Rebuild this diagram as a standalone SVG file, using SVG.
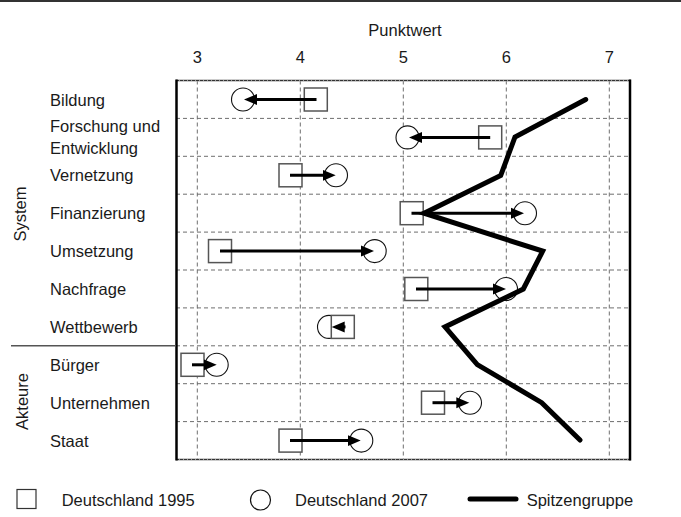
<svg xmlns="http://www.w3.org/2000/svg" width="681" height="517" viewBox="0 0 681 517">
<style>
text{font-family:"Liberation Sans",Arial,sans-serif;font-size:16.5px;fill:#1a1a1a}
.tick{text-anchor:middle}
.grid{stroke:#6e6e6e;stroke-width:1;stroke-dasharray:4 3;fill:none}
.sq{fill:#fff;stroke:#555;stroke-width:1.5}
.ci{fill:#fff;stroke:#111;stroke-width:1.1}
.arr{stroke:#000;stroke-width:3;fill:none;marker-end:url(#ah)}
.top{stroke:#000;stroke-width:5;fill:none;stroke-linecap:round;stroke-linejoin:miter;stroke-miterlimit:10}
</style>
<defs>
<marker id="ah" markerUnits="userSpaceOnUse" markerWidth="14" markerHeight="12" viewBox="0 0 14 12" refX="5" refY="6" orient="auto">
<path d="M0,0.5 L13,6 L0,11.5 z" fill="#000"/>
</marker>
</defs>
<rect x="0" y="0" width="681" height="2" fill="#333"/>
<text x="405" y="36" class="tick">Punktwert</text>
<g id="axis">
<text x="197.3" y="63" class="tick">3</text>
<text x="300.3" y="63" class="tick">4</text>
<text x="403.3" y="63" class="tick">5</text>
<text x="506.3" y="63" class="tick">6</text>
<text x="609.3" y="63" class="tick">7</text>
</g>
<g id="grid">
<path class="grid" d="M197.3,80.5V459.5M300.3,80.5V459.5M403.3,80.5V459.5M506.3,80.5V459.5M609.3,80.5V459.5"/>
<path class="grid" d="M176,118.4H630M176,156.3H630M176,194.2H630M176,232.1H630M176,270H630M176,307.9H630M176,345.8H630M176,383.7H630M176,421.6H630"/>
</g>
<g id="frame">
<path d="M176,80.5H631M176,459.5H631" stroke="#9a9a9a" stroke-width="2" fill="none"/>
<path d="M176,80.5H631M176,459.5H631" stroke="#333" stroke-width="1" stroke-dasharray="3 1" fill="none"/>
<path d="M176.5,79.5V460.5M630,79.5V460.5" stroke="#000" stroke-width="2.5" fill="none"/>
</g>
<path d="M11,345.8H176" stroke="#555" stroke-width="1.5"/>
<text transform="translate(26,214) rotate(-90)" class="tick">System</text>
<text transform="translate(27.5,401.5) rotate(-90)" class="tick">Akteure</text>
<g id="labels">
<text x="50" y="105.5">Bildung</text>
<text x="50" y="131.5">Forschung und</text>
<text x="50" y="153.5">Entwicklung</text>
<text x="50" y="181.3">Vernetzung</text>
<text x="50" y="219.2">Finanzierung</text>
<text x="50" y="257.1">Umsetzung</text>
<text x="50" y="295">Nachfrage</text>
<text x="50" y="332.9">Wettbewerb</text>
<text x="50" y="370.8">Bürger</text>
<text x="50" y="408.7">Unternehmen</text>
<text x="50" y="446.6">Staat</text>
</g>
<g id="row-bildung"><circle class="ci" cx="243" cy="99.5" r="11.5"/><rect class="sq" x="304.3" y="88" width="23" height="23"/></g>
<g id="row-forschung"><circle class="ci" cx="407.5" cy="137.4" r="11.5"/><rect class="sq" x="478.7" y="125.9" width="23" height="23"/></g>
<g id="row-vernetzung"><circle class="ci" cx="336" cy="175.3" r="11.5"/><rect class="sq" x="279" y="163.8" width="23" height="23"/></g>
<g id="row-finanzierung"><circle class="ci" cx="525" cy="213.2" r="11.5"/><rect class="sq" x="400.2" y="201.7" width="23" height="23"/></g>
<g id="row-umsetzung"><circle class="ci" cx="374.7" cy="251.1" r="11.5"/><rect class="sq" x="208.5" y="239.6" width="23" height="23"/></g>
<g id="row-nachfrage"><circle class="ci" cx="506" cy="289" r="11.5"/><rect class="sq" x="404.8" y="277.5" width="23" height="23"/></g>
<g id="row-wettbewerb"><circle class="ci" cx="329" cy="326.9" r="11.5"/><rect class="sq" x="331.3" y="315.4" width="23" height="23"/></g>
<g id="row-buerger"><circle class="ci" cx="216.7" cy="364.8" r="11.5"/><rect class="sq" x="181" y="353.3" width="23" height="23"/></g>
<g id="row-unternehmen"><circle class="ci" cx="470" cy="402.7" r="11.5"/><rect class="sq" x="421.5" y="391.2" width="23" height="23"/></g>
<g id="row-staat"><circle class="ci" cx="361.3" cy="440.6" r="11.5"/><rect class="sq" x="279" y="429.1" width="23" height="23"/></g>
<g id="connectors">
<line class="arr" x1="316.5" y1="99.5" x2="252" y2="99.5"/>
<line class="arr" x1="490.2" y1="137.4" x2="417" y2="137.4"/>
<line class="arr" x1="290" y1="175.3" x2="327.7" y2="175.3"/>
<line class="arr" x1="411.5" y1="213.2" x2="516" y2="213.2"/>
<line class="arr" x1="220" y1="251.1" x2="366" y2="251.1"/>
<line class="arr" x1="416" y1="289" x2="498" y2="289"/>
<line class="arr" x1="345.5" y1="326.9" x2="339.7" y2="326.9"/>
<line class="arr" x1="192" y1="364.8" x2="208.7" y2="364.8"/>
<line class="arr" x1="432.5" y1="402.7" x2="461.3" y2="402.7"/>
<line class="arr" x1="290" y1="440.6" x2="352.7" y2="440.6"/>
<polyline id="spitzengruppe" class="top" points="585.7,99.5 515,137 500.7,175.5 424,213.2 542.7,251.1 523.3,289 445,326.9 477.3,364.6 541.7,402.7 580,440"/>
</g>
<g id="legend">
<rect x="17" y="489.5" width="19" height="19" fill="#fff" stroke="#333" stroke-width="1.2"/>
<text x="61.7" y="506">Deutschland 1995</text>
<circle cx="260.5" cy="500" r="10" fill="#fff" stroke="#111" stroke-width="1.2"/>
<text x="295" y="506">Deutschland 2007</text>
<path d="M470,499H516" stroke="#000" stroke-width="5" stroke-linecap="round"/>
<text x="526.7" y="506">Spitzengruppe</text>
</g>
</svg>
